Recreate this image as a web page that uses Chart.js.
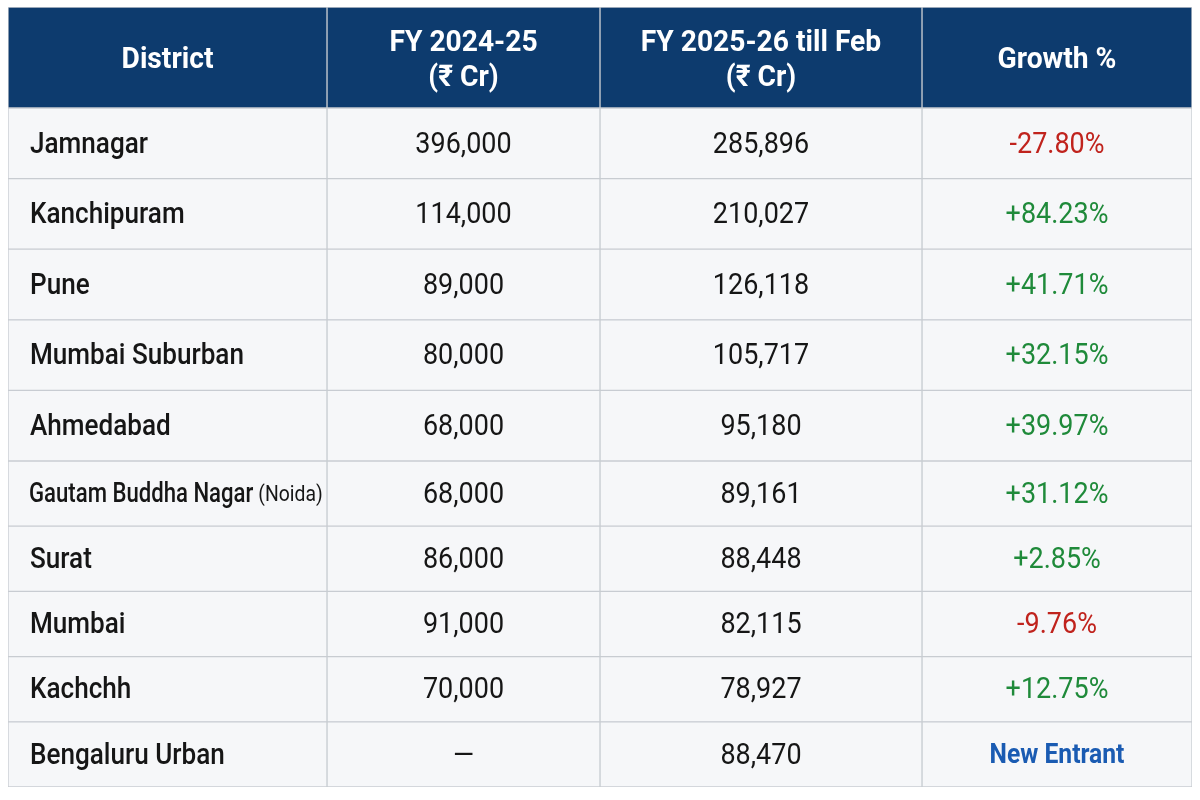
<!DOCTYPE html>
<html>
<head>
<meta charset="utf-8">
<script src="https://cdn.jsdelivr.net/npm/chart.js@4.4.1/dist/chart.umd.min.js"></script>
<style>
  html, body { margin: 0; padding: 0; background: #ffffff; }
  #wrap { width: 1200px; height: 800px; position: relative; }
</style>
</head>
<body>
<div id="wrap"><canvas id="c"></canvas></div>
<script>
// ---- data ----
const districts = ['Jamnagar', 'Kanchipuram', 'Pune', 'Mumbai Suburban', 'Ahmedabad',
  'Gautam Buddha Nagar (Noida)', 'Surat', 'Mumbai', 'Kachchh', 'Bengaluru Urban'];
const fy2425 = [396000, 114000, 89000, 80000, 68000, 68000, 86000, 91000, 70000, null];
const fy2526 = [285896, 210027, 126118, 105717, 95180, 89161, 88448, 82115, 78927, 88470];
const growthPct = [-27.80, 84.23, 41.71, 32.15, 39.97, 31.12, 2.85, -9.76, 12.75, null];
const headers = [['District'], ['FY 2024-25', '(₹ Cr)'], ['FY 2025-26 till Feb', '(₹ Cr)'], ['Growth %']];
const missingValue = '—';
const newEntrantLabel = 'New Entrant';

// ---- layout (styling, not data) ----
const colWeights = [319, 273, 322, 270];
const headerWeight = 101, upperWeight = 353, lowerWeight = 326;
const splitAt = 5;
const HEADER_BG = '#0d3b6e', BODY_BG = '#f6f7f9', GRID = '#c8ccd2';
const TEXT = '#161616', RED = '#c0231d', GREEN = '#1f8a3a', BLUE = '#1a5bb2';
const FONT = 'Roboto, "Noto Sans", sans-serif';

const totalW = colWeights.reduce((a, b) => a + b, 0);
const sections = [
  { id: 'yH', labels: ['__header__'], kind: 'header', offset: 0 },
  { id: 'yA', labels: districts.slice(0, splitAt), kind: 'body', offset: 0 },
  { id: 'yB', labels: districts.slice(splitAt), kind: 'body', offset: splitAt }
];

const datasets = [];
sections.forEach(sec => {
  colWeights.forEach((w, c) => {
    datasets.push({
      label: sec.id + '-' + c,
      yAxisID: sec.id,
      xAxisID: 'x',
      stack: 'row-' + sec.id,
      kind: sec.kind,
      col: c,
      rowOffset: sec.offset,
      data: sec.labels.map(l => ({ y: l, x: w })),
      backgroundColor: sec.kind === 'header' ? HEADER_BG : BODY_BG,
      borderColor: GRID,
      borderWidth: 1,
      borderSkipped: false,
      grouped: false,
      barPercentage: 1,
      categoryPercentage: 1
    });
  });
});

function fmtNum(v) { return v == null ? missingValue : v.toLocaleString('en-US'); }
function fmtGrowth(v) {
  if (v == null) return newEntrantLabel;
  return (v > 0 ? '+' : '') + v.toFixed(2) + '%';
}

function drawScaled(ctx, text, x, y, align, sx) {
  ctx.save();
  ctx.translate(x, y);
  ctx.scale(sx, 1);
  ctx.textAlign = align;
  ctx.fillText(text, 0, 0);
  ctx.restore();
}

const tableText = {
  id: 'tableText',
  afterDatasetsDraw(chart) {
    const ctx = chart.ctx;
    ctx.save();
    ctx.textBaseline = 'middle';
    chart.data.datasets.forEach((ds, di) => {
      const meta = chart.getDatasetMeta(di);
      meta.data.forEach((el, i) => {
        const p = el.getProps(['x', 'base', 'y'], true);
        const left = Math.min(p.x, p.base), right = Math.max(p.x, p.base);
        const cx = (left + right) / 2, cy = p.y + 2;
        const c = ds.col;
        if (ds.kind === 'header') {
          const lines = headers[c];
          ctx.fillStyle = '#ffffff';
          ctx.font = 'bold 30px ' + FONT;
          const lh = 35;
          lines.forEach((t, k) => {
            drawScaled(ctx, t, cx, cy + 1 + (k - (lines.length - 1) / 2) * lh, 'center', 0.94);
          });
          return;
        }
        const r = ds.rowOffset + i;
        if (c === 0) {
          const name = districts[r];
          ctx.fillStyle = TEXT;
          const pi = name.indexOf(' (');
          if (pi >= 0) {
            const main = name.slice(0, pi), extra = name.slice(pi + 1);
            ctx.font = '500 27px ' + FONT;
            const sx = 0.82;
            const wMain = ctx.measureText(main).width * sx;
            drawScaled(ctx, main, left + 21, cy, 'left', sx);
            ctx.font = '400 22px ' + FONT;
            drawScaled(ctx, extra, left + 21 + wMain + 5, cy, 'left', 0.88);
          } else {
            ctx.font = '500 29px ' + FONT;
            drawScaled(ctx, name, left + 22, cy, 'left', 0.9);
          }
        } else if (c === 1 || c === 2) {
          const v = c === 1 ? fy2425[r] : fy2526[r];
          ctx.fillStyle = TEXT;
          ctx.font = '400 29px ' + FONT;
          drawScaled(ctx, fmtNum(v), cx, cy, 'center', 0.93);
        } else {
          const g = growthPct[r];
          if (g == null) {
            ctx.fillStyle = BLUE;
            ctx.font = 'bold 28px ' + FONT;
            drawScaled(ctx, fmtGrowth(g), cx, cy, 'center', 0.88);
          } else {
            ctx.fillStyle = g < 0 ? RED : GREEN;
            ctx.font = '400 29px ' + FONT;
            drawScaled(ctx, fmtGrowth(g), cx, cy, 'center', 0.93);
          }
        }
      });
    });
    ctx.restore();
  }
};

const yAxis = (sec, weight) => ({
  type: 'category',
  labels: sec.labels,
  stacked: true,
  stack: 'table',
  stackWeight: weight,
  position: 'right',
  offset: true,
  display: false
});

new Chart(document.getElementById('c'), {
  type: 'bar',
  data: { datasets },
  options: {
    indexAxis: 'y',
    responsive: true,
    maintainAspectRatio: false,
    animation: false,
    layout: { padding: { left: 8, right: 8, top: 7, bottom: 13 } },
    plugins: { legend: { display: false }, tooltip: { enabled: false }, title: { display: false } },
    scales: {
      yH: yAxis(sections[0], headerWeight),
      yA: yAxis(sections[1], upperWeight),
      yB: yAxis(sections[2], lowerWeight),
      x: { type: 'linear', stacked: true, min: 0, max: totalW, display: false }
    }
  },
  plugins: [tableText]
});
</script>
</body>
</html>
